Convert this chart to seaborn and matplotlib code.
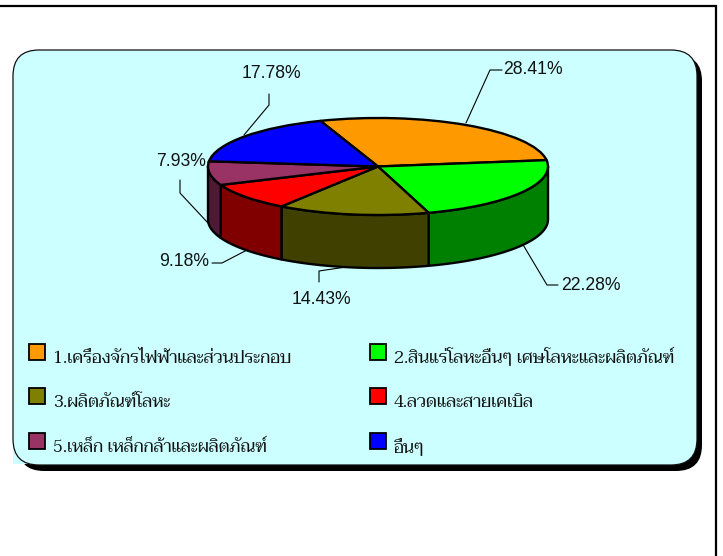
"""Export share pie drawn as an extruded disc on a rounded panel."""
import numpy as np
import matplotlib
matplotlib.use("Agg")
import matplotlib.pyplot as plt
from matplotlib.patches import FancyBboxPatch, Rectangle
import seaborn as sns

# ── Data ─────────────────────────────────────────────────────────────────────
categories = [
    "1.เครื่องจักรไฟฟ้าและส่วนประกอบ",
    "2.สินแร่โลหะอื่นๆ เศษโลหะและผลิตภัณฑ์",
    "3.ผลิตภัณฑ์โลหะ",
    "4.ลวดและสายเคเบิล",
    "5.เหล็ก เหล็กกล้าและผลิตภัณฑ์",
    "อื่นๆ",
]
shares = [28.41, 22.28, 14.43, 9.18, 7.93, 17.78]
top_colors = ["#FF9900", "#00FF00", "#808000", "#FF0000", "#993366", "#0000FF"]
side_colors = ["#804D00", "#008000", "#404000", "#800000", "#4D1A33", "#000080"]

# ── Layout (pixels, origin top left) ─────────────────────────────────────────
W, H = 723, 556
PANEL = "#CCFFFF"
CX, CY, RX, RY, DEPTH = 378, 166.5, 170, 48.5, 53
START = -19.8  # degrees clockwise from 12 o'clock
THAI = "Taviraj"

label_pos = [(533, 69), (591, 285), (321, 299), (184, 262), (181, 162), (271, 74)]
leaders = [
    [(466, 123), (490, 70), (502, 70)],
    [(522, 243), (547, 285), (558, 285)],
    [(353, 266), (319, 271), (319, 282)],
    [(247, 250), (222, 263), (212, 263)],
    [(208, 223), (180, 193), (180, 180)],
    [(244, 135), (269, 105), (269, 94)],
]
swatch_x = [29, 370]
swatch_y = [344, 388, 433]
text_x = [53, 394]
text_y = [363, 407, 452]

sns.set_theme(style="white")
plt.rcParams["font.family"] = ["Liberation Sans", "DejaVu Sans"]

fig = plt.figure(figsize=(W / 100, H / 100), dpi=100, facecolor="white")

# ── Panel, frame, labels ─────────────────────────────────────────────────────
bg = fig.add_axes([0, 0, 1, 1])
bg.set_xlim(0, W)
bg.set_ylim(H, 0)
bg.axis("off")


def rounded(x0, y0, x1, y1, r, **kw):
    return FancyBboxPatch(
        (x0 + r, y0 + r), x1 - x0 - 2 * r, y1 - y0 - 2 * r,
        boxstyle=f"round,pad={r},rounding_size={r}", **kw
    )


bg.plot([0, 716, 716], [6, 6, H], color="black", lw=1.6, solid_joinstyle="miter")
bg.add_patch(rounded(18, 55, 702, 471, 26, fc="black", ec="black", lw=0))
bg.add_patch(Rectangle((13, 440), 26, 24, fc=PANEL, ec="none"))
bg.add_patch(rounded(13, 50, 697, 465, 26, fc=PANEL, ec="#111111", lw=0.9))

for pos, path, share in zip(label_pos, leaders, shares):
    xs, ys = zip(*path)
    bg.plot(xs, ys, color="black", lw=0.8)
    bg.text(pos[0], pos[1], f"{share:.2f}%", ha="center", va="center",
            fontsize=12.7, color="#111111")

for i, (name, color) in enumerate(zip(categories, top_colors)):
    row, col = i // 2, i % 2
    bg.add_patch(Rectangle((swatch_x[col], swatch_y[row]), 16, 16,
                           fc=color, ec="black", lw=1.3))
    bg.text(text_x[col], text_y[row], name, ha="left", va="baseline",
            fontsize=12.4, family=[THAI, "DejaVu Sans"], color="#111111")

# ── Pie: unit circle squashed to the ellipse by the axes box ─────────────────
depth = DEPTH / RY
ax = fig.add_axes([(CX - RX) / W, 1 - (CY + RY + DEPTH) / H,
                   2 * RX / W, (2 * RY + DEPTH) / H])

fractions = np.array(shares) / np.sum(shares)
edges = START + 360 * np.concatenate([[0], np.cumsum(fractions)])

# walls first, only the arc facing the viewer
for a0, a1, color in zip(edges[:-1], edges[1:], side_colors):
    lo, hi = max(a0, 90), min(a1, 270)
    if lo >= hi:
        continue
    t = np.radians(np.linspace(lo, hi, 60))
    xs = np.concatenate([np.sin(t), np.sin(t)[::-1]])
    ys = np.concatenate([np.cos(t), np.cos(t)[::-1] - depth])
    ax.fill(xs, ys, fc=color, ec="black", lw=1.7, clip_on=False, joinstyle="round")

ax.pie(shares, colors=top_colors, startangle=90 - START, counterclock=False,
       radius=1, wedgeprops={"edgecolor": "black", "linewidth": 1.7, "clip_on": False})
ax.set_aspect("auto")
ax.set_xlim(-1, 1)
ax.set_ylim(-1 - depth, 1)
ax.axis("off")

fig.savefig("out.png", dpi=100)
